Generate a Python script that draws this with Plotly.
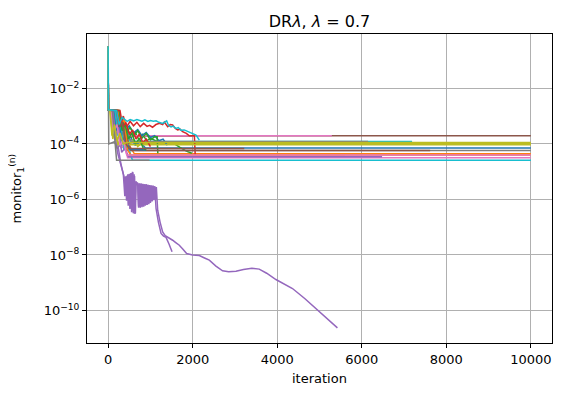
import plotly.graph_objects as go

# ---- data: each run = (iterations, monitor values) ----
r00_it = [0, 5, 110, 170, 230, 290, 360, 430, 520, 640, 760, 880, 10000]
r00_v = [0.33, 1.7e-3, 1.6e-3, 4e-4, 7e-4, 2e-4, 3.2e-4, 1.3e-4, 1.9e-4, 9e-5, 1.2e-4, 7.2e-5, 7.2e-5]
r01_it = [0, 5, 70, 140, 210, 280, 350, 430, 520, 620, 10000]
r01_v = [0.33, 1.7e-3, 1.6e-3, 3e-4, 6e-4, 1.2e-4, 2e-4, 6e-5, 8e-5, 4.4e-5, 4.4e-5]
r02_it = [0, 5, 160, 230, 300, 380, 460, 550, 640, 730, 820, 910, 1000, 1150, 1350, 1550, 1700, 1850, 1980]
r02_v = [0.33, 1.7e-3, 1.5e-3, 3e-4, 5.5e-4, 2.2e-4, 3.6e-4, 1.7e-4, 2.6e-4, 1.4e-4, 2.2e-4, 1.3e-4, 1.6e-4,
         1.25e-4, 1.15e-4, 1.05e-4, 7.5e-5, 5.5e-5, 4.6e-5]
r03_it = [0, 5, 190, 260, 330, 400, 460, 2000]
r03_v = [0.33, 1.7e-3, 1.6e-3, 5e-4, 9e-4, 3e-4, 1.96e-4, 1.96e-4]
r04_it = [0, 5, 90, 160, 220, 270, 345,
          385, 405, 425, 445, 465, 485, 505, 525, 545, 565, 585, 605, 625, 645, 660,
          700, 720, 740, 760, 780, 800, 820, 840, 860, 880, 900, 920, 940, 960, 980, 1000,
          1020, 1040, 1060, 1080, 1100, 1120, 1140, 1160,
          1172, 1230, 1290, 1350, 1408, 1470, 1526, 1600, 1684, 1770, 1857, 2000, 2157, 2280,
          2393, 2550, 2707, 2850, 3024, 3200, 3400, 3574, 3750, 3969, 4150, 4361, 4650, 4914,
          5180, 5424]
r04_v = [0.33, 1.7e-3, 1.5e-3, 2e-4, 5e-5, 2.6e-5, 8.7e-6,
         6.0e-6, 1.5e-6, 7.0e-6, 1.0e-6, 8.0e-6, 7.0e-7, 8.5e-6, 5.0e-7, 9.0e-6, 4.0e-7, 9.5e-6,
         3.2e-7, 7.0e-6, 3.2e-7, 3.2e-6,
         4.0e-6, 5.0e-7, 3.8e-6, 5.0e-7, 3.8e-6, 5.6e-7, 3.7e-6, 5.6e-7, 3.5e-6, 6.3e-7, 3.5e-6,
         6.3e-7, 3.4e-6, 7.1e-7, 3.3e-6, 7.9e-7, 3.2e-6, 8.9e-7, 3.2e-6, 1.0e-6, 3.0e-6, 1.0e-6,
         2.8e-6, 9.0e-7,
         4.1e-7, 1.5e-7, 6.8e-8, 5.0e-8, 4.5e-8, 3.8e-8, 3.4e-8, 2.8e-8, 2.25e-8, 1.6e-8, 1.13e-8,
         1.0e-8, 9.6e-9, 7.8e-9, 6.5e-9, 4.0e-9, 2.7e-9, 2.5e-9, 2.6e-9, 3.0e-9, 3.3e-9, 3.1e-9,
         2.2e-9, 1.31e-9, 9e-10, 6.2e-10, 2.7e-10, 1.18e-10, 5.0e-11, 2.36e-11]
r05_it = [0, 5, 100, 170, 240, 300, 360, 10000]
r05_v = [0.33, 1.7e-3, 1.6e-3, 4e-4, 8e-4, 2.2e-4, 1.96e-4, 1.96e-4]
r06_it = [0, 5, 60, 120, 180, 240, 300, 5292]
r06_v = [0.33, 1.7e-3, 1.4e-3, 3e-4, 6e-4, 2.3e-4, 1.96e-4, 1.96e-4]
r07_it = [0, 5, 15, 150, 220, 300, 380, 460, 10000]
r07_v = [0.33, 1.7e-3, 1.0e-4, 1.2e-4, 7e-5, 1.0e-4, 6.5e-5, 5.8e-5, 5.8e-5]
r08_it = [0, 5, 130, 200, 270, 340, 420, 500, 600, 700, 780, 10000]
r08_v = [0.33, 1.7e-3, 1.7e-3, 2e-4, 6e-4, 1.3e-4, 3e-4, 9e-5, 1.5e-4, 8e-5, 1.02e-4, 1.02e-4]
r09_it = [0, 5, 140, 210, 280, 360, 440, 520, 7190]
r09_v = [0.33, 1.7e-3, 1.6e-3, 5e-4, 8e-4, 2.5e-4, 3.5e-4, 1.22e-4, 1.22e-4]
r10_it = [0, 5, 180, 250, 330, 410, 500, 600, 700, 800, 900, 1000, 1100, 1200, 1300, 1400]
r10_v = [0.33, 1.7e-3, 1.6e-3, 5e-4, 9e-4, 3e-4, 4.5e-4, 2.5e-4, 3.3e-4, 2e-4, 2.6e-4, 1.7e-4, 2e-4,
         1.3e-4, 1.5e-4, 9e-5]
r11_it = [0, 5, 130, 200, 270, 350, 430, 520, 5600]
r11_v = [0.33, 1.7e-3, 1.6e-3, 4e-4, 7e-4, 1.5e-4, 2.2e-4, 3.6e-5, 3.6e-5]
r12_it = [0, 5, 200, 270, 350, 430, 520, 610, 700, 800, 900, 1000, 1100, 1160, 1175]
r12_v = [0.33, 1.7e-3, 1.5e-3, 4e-4, 6e-4, 2.5e-4, 4e-4, 2e-4, 3e-4, 1.6e-4, 2.4e-4, 1.4e-4, 1.8e-4,
         1.8e-4, 4.6e-5]
r13_it = [0, 5, 220, 290, 360, 430, 520, 600, 680, 760, 840, 920, 980, 1050, 1130, 1215, 1290, 1330,
          1408, 1470, 1526, 1590, 1644, 1700, 1762, 1850, 1920, 2040, 2060]
r13_v = [0.33, 1.7e-3, 1.6e-3, 6e-4, 1e-3, 4e-4, 6.5e-4, 4.5e-4, 6e-4, 4.2e-4, 5.5e-4, 4.3e-4, 4.7e-4,
         4e-4, 5e-4, 5.5e-4, 5e-4, 6.1e-4, 4.2e-4, 5e-4, 4.8e-4, 3.6e-4, 3.2e-4, 3.4e-4, 2.75e-4,
         2.4e-4, 1.96e-4, 1.96e-4, 4e-5]
r14_it = [0, 5, 100, 170, 240, 300, 360,
          395, 415, 435, 455, 475, 495, 515, 535, 555, 575, 595, 615, 635, 655,
          700, 720, 740, 760, 780, 800, 820, 840, 860, 880, 900, 920, 940, 960, 980, 1000,
          1020, 1040, 1060, 1080, 1100, 1120,
          1134, 1190, 1252, 1310, 1370, 1440, 1512]
r14_v = [0.33, 1.7e-3, 1.5e-3, 3e-4, 6e-5, 2e-5, 8e-6,
         1.3e-6, 6.5e-6, 9.0e-7, 7.5e-6, 6.0e-7, 8.0e-6, 4.5e-7, 8.8e-6, 3.5e-7, 1.0e-5, 3.2e-7,
         8.0e-6, 3.0e-7, 4.5e-6,
         3.6e-6, 5.6e-7, 3.7e-6, 5.3e-7, 3.6e-6, 5.3e-7, 3.6e-6, 5.6e-7, 3.5e-6, 5.9e-7, 3.5e-6,
         6.3e-7, 3.4e-6, 6.7e-7, 3.3e-6, 7.5e-7, 3.2e-6, 8.4e-7, 3.1e-6, 9.4e-7, 3.0e-6, 1.0e-6,
         4.7e-7, 1.5e-7, 6.0e-8, 4.8e-8, 4.3e-8, 2.5e-8, 1.3e-8]
r15_it = [0, 5, 150, 220, 290, 370, 450, 540, 7617]
r15_v = [0.33, 1.7e-3, 1.6e-3, 3e-4, 5e-4, 1.2e-4, 1.6e-4, 5.8e-5, 5.8e-5]
r16_it = [0, 5, 90, 160, 230, 300, 380, 460, 10000]
r16_v = [0.33, 1.7e-3, 1.5e-3, 2e-4, 4e-4, 7e-5, 1e-4, 3.2e-5, 3.2e-5]
r17_it = [0, 5, 170, 240, 310, 390, 470, 550, 6150]
r17_v = [0.33, 1.7e-3, 1.6e-3, 4e-4, 6e-4, 1.6e-4, 2e-4, 1.22e-4, 1.22e-4]
r18_it = [0, 5, 50, 110, 170, 230, 300, 380, 460, 10000]
r18_v = [0.33, 1.7e-3, 1.6e-3, 1.5e-4, 4e-4, 9e-5, 2e-4, 8e-5, 9.3e-5, 9.3e-5]
r19_it = [0, 5, 160, 230, 300, 380, 460, 575, 10000]
r19_v = [0.33, 1.7e-3, 1.5e-3, 2e-4, 4e-4, 6e-5, 9e-5, 2.6e-5, 2.6e-5]
r20_it = [0, 5, 120, 190, 260, 340, 420, 500, 900]
r20_v = [0.33, 1.7e-3, 1.6e-3, 3e-4, 5e-4, 1.1e-4, 1.5e-4, 6.6e-5, 6.0e-5]
r21_it = [0, 5, 240, 310, 380, 460, 540, 10000]
r21_v = [0.33, 1.7e-3, 1.6e-3, 5e-4, 8e-4, 6e-5, 4.0e-5, 4.0e-5]
r22_it = [0, 5, 260, 330, 400, 480, 560, 650, 740, 830, 900]
r22_v = [0.33, 1.7e-3, 1.6e-3, 3e-4, 5e-4, 1.5e-4, 2.5e-4, 1e-4, 1.6e-4, 7e-5, 6e-5]
r23_it = [0, 5, 280, 350, 420, 500, 580, 660, 740, 820, 900, 1000]
r23_v = [0.33, 1.7e-3, 1.6e-3, 4e-4, 6e-4, 2.2e-4, 3.2e-4, 1.5e-4, 2.3e-4, 1.1e-4, 1.5e-4, 8e-5]
r24_it = [0, 5, 110, 180, 250, 320, 400, 480, 6480]
r24_v = [0.33, 1.7e-3, 1.6e-3, 2e-4, 4e-4, 5e-5, 7e-5, 3.45e-5, 3.45e-5]
r25_it = [0, 5, 200, 270, 340, 420, 500, 3220]
r25_v = [0.33, 1.7e-3, 1.6e-3, 4e-4, 6e-4, 1e-4, 6.8e-5, 6.8e-5]
r26_it = [0, 5, 70, 140, 210, 280, 360, 440, 10000]
r26_v = [0.33, 1.7e-3, 1.5e-3, 3e-4, 5e-4, 9e-5, 1.3e-4, 4.0e-5, 4.0e-5]
r27_it = [0, 5, 100, 160, 200, 980]
r27_v = [0.33, 1.7e-3, 1.5e-3, 1e-4, 2.6e-5, 2.6e-5]
r28_it = [0, 5, 40, 90, 150, 210, 280, 360, 440, 10000]
r28_v = [0.33, 1.7e-3, 1.6e-3, 2e-4, 5e-4, 1.3e-4, 2.5e-4, 1.0e-4, 1.12e-4, 1.12e-4]
r29_it = [0, 5, 200, 260, 330, 387, 450, 520, 600, 680, 739, 800, 870, 940, 1000, 1070, 1134, 1200,
          1290, 1384, 1430, 1488, 1540, 1606, 1660, 1725, 1800, 1921, 2000, 2079, 2157]
r29_v = [0.33, 1.7e-3, 1.6e-3, 5e-4, 9e-4, 7.6e-4, 6.5e-4, 7.5e-4, 6.8e-4, 7.6e-4, 7.2e-4, 6.6e-4,
         7.4e-4, 6.5e-4, 7.0e-4, 6.6e-4, 6.8e-4, 6.0e-4, 5.5e-4, 6.8e-4, 4.6e-4, 4.1e-4, 4.4e-4,
         3.6e-4, 3.9e-4, 3.1e-4, 3.2e-4, 2.7e-4, 2.4e-4, 2.1e-4, 1.37e-4]

runs = [(r00_it, r00_v), (r01_it, r01_v), (r02_it, r02_v), (r03_it, r03_v), (r04_it, r04_v),
        (r05_it, r05_v), (r06_it, r06_v), (r07_it, r07_v), (r08_it, r08_v), (r09_it, r09_v),
        (r10_it, r10_v), (r11_it, r11_v), (r12_it, r12_v), (r13_it, r13_v), (r14_it, r14_v),
        (r15_it, r15_v), (r16_it, r16_v), (r17_it, r17_v), (r18_it, r18_v), (r19_it, r19_v),
        (r20_it, r20_v), (r21_it, r21_v), (r22_it, r22_v), (r23_it, r23_v), (r24_it, r24_v),
        (r25_it, r25_v), (r26_it, r26_v), (r27_it, r27_v), (r28_it, r28_v), (r29_it, r29_v)]

x_ticks = [0, 2000, 4000, 6000, 8000, 10000]
x_ticktext = ["0", "2000", "4000", "6000", "8000", "10000"]
y_ticks = [1e-10, 1e-8, 1e-6, 1e-4, 1e-2]
y_ticktext = ["10<sup>−10</sup>", "10<sup>−8</sup>", "10<sup>−6</sup>", "10<sup>−4</sup>", "10<sup>−2</sup>"]

colors = ["#1f77b4", "#ff7f0e", "#2ca02c", "#d62728", "#9467bd",
          "#8c564b", "#e377c2", "#7f7f7f", "#bcbd22", "#17becf"]

fig = go.Figure()
for i, (xs, ys) in enumerate(runs):
    fig.add_trace(go.Scatter(x=xs, y=ys, mode="lines",
                             line=dict(color=colors[i % 10], width=1.5),
                             showlegend=False, hoverinfo="skip"))

# the page body has an 8px default margin, so the figure is 8px smaller
W, H = 555, 387
ml, mr, mt, mb = 79, 11, 26, 52
ph = H - mt - mb
pw = W - ml - mr
fig.update_layout(
    width=W, height=H,
    margin=dict(l=ml, r=mr, t=mt, b=mb, pad=0),
    paper_bgcolor="white", plot_bgcolor="white",
    font=dict(family="DejaVu Sans", size=13, color="black"),
    title=dict(text="DR<i>λ</i>, <i>λ</i> = 0.7", x=0.5, xref="paper", xanchor="center",
               y=1 - 13 / H, yanchor="middle", yref="container",
               font=dict(size=16, family="DejaVu Sans")),
    xaxis=dict(range=[-500, 10500], tickvals=x_ticks, ticktext=x_ticktext, ticks="outside",
               ticklen=4, tickwidth=1, tickcolor="black", showgrid=True, gridcolor="#b0b0b0",
               gridwidth=1, showline=True, linecolor="black", linewidth=1, mirror=True,
               zeroline=False),
    yaxis=dict(type="log", range=[-11.17, -0.04], tickvals=y_ticks, ticktext=y_ticktext,
               ticks="outside", ticklen=4, tickwidth=1, tickcolor="black",
               showgrid=True, gridcolor="#b0b0b0", gridwidth=1,
               showline=True, linecolor="black", linewidth=1, mirror=True, zeroline=False),
    annotations=[
        dict(text="iteration", xref="paper", yref="paper", x=0.5, y=-(378 - 343) / ph,
             xanchor="center", yanchor="middle", showarrow=False, font=dict(size=13)),
        dict(text="monitor<sub>1</sub><sup>(n)</sup>", xref="paper", yref="paper",
             x=(16 - 87) / pw, y=0.5, xanchor="center", yanchor="middle",
             textangle=-90, showarrow=False, font=dict(size=13)),
    ],
)

fig.write_html("out.html")
